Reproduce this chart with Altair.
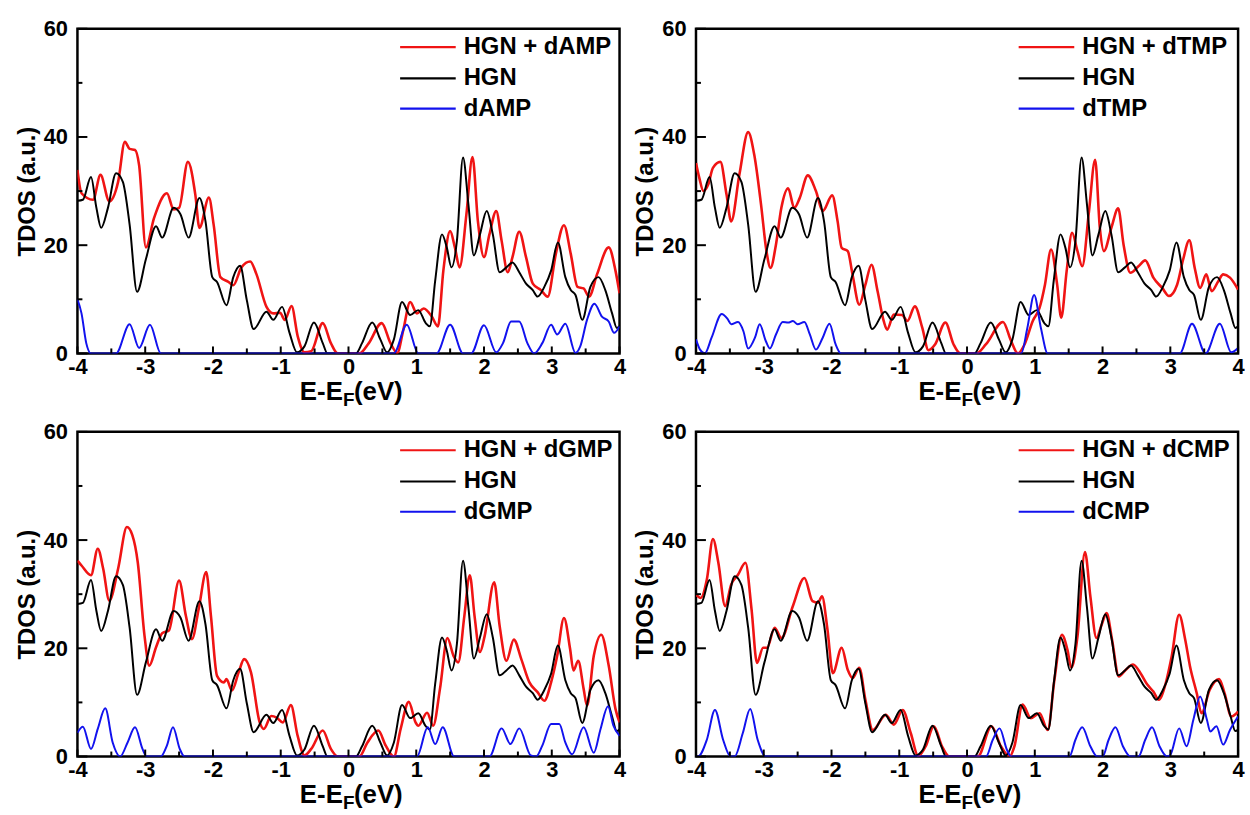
import altair as alt
import pandas as pd

# ---- TDOS curves (energy in eV, DOS in a.u.) ----
HGN = [(-4.00, 28.2), (-3.92, 28.4), (-3.80, 32.6), (-3.72, 26.9), (-3.65, 23.2), (-3.55, 26.9),
       (-3.43, 33.3), (-3.33, 31.7), (-3.23, 23.8), (-3.12, 11.4), (-2.99, 17.4), (-2.84, 23.5),
       (-2.75, 21.4), (-2.58, 26.9), (-2.48, 25.7), (-2.36, 21.4), (-2.20, 28.7), (-2.11, 24.4),
       (-2.01, 14.1), (-1.94, 13.2), (-1.80, 8.9), (-1.70, 14.1), (-1.60, 16.2), (-1.50, 9.8),
       (-1.40, 4.5), (-1.21, 7.7), (-1.11, 6.2), (-0.98, 8.6), (-0.87, 3.8), (-0.76, 0.2),
       (-0.65, 1.3), (-0.51, 5.7), (-0.38, 1.9), (-0.31, 0.0), (0.11, 0.0), (0.20, 1.9),
       (0.35, 5.7), (0.47, 2.6), (0.57, 0.2), (0.67, 2.6), (0.79, 9.5), (0.91, 7.1),
       (1.03, 8.0), (1.14, 5.6), (1.20, 5.0), (1.28, 13.5), (1.38, 22.0), (1.45, 19.6),
       (1.52, 15.9), (1.60, 20.8), (1.69, 36.2), (1.77, 27.5), (1.85, 18.1), (1.94, 22.0),
       (2.04, 26.3), (2.13, 22.0), (2.23, 15.0), (2.33, 15.9), (2.42, 16.8), (2.52, 15.0),
       (2.62, 12.9), (2.72, 11.7), (2.79, 10.5), (2.89, 12.3), (2.99, 15.3), (3.09, 20.5),
       (3.20, 14.1), (3.28, 11.7), (3.35, 10.8), (3.45, 6.2), (3.57, 12.3), (3.69, 14.1),
       (3.79, 11.7), (3.89, 7.4), (3.96, 4.7), (4.00, 5.0)]

HGN_DAMP = [(-4.00, 33.9), (-3.94, 29.6), (-3.77, 28.4), (-3.66, 33.0), (-3.53, 28.1), (-3.40, 31.7),
            (-3.30, 39.1), (-3.23, 37.8), (-3.15, 37.6), (-3.09, 34.8), (-2.99, 19.6), (-2.87, 25.0),
            (-2.68, 29.6), (-2.58, 26.6), (-2.50, 26.9), (-2.37, 35.4), (-2.26, 29.3), (-2.20, 23.2),
            (-2.06, 28.8), (-1.99, 23.8), (-1.89, 14.1), (-1.77, 13.2), (-1.70, 12.6), (-1.58, 15.9),
            (-1.45, 17.0), (-1.36, 14.7), (-1.21, 8.6), (-1.11, 7.4), (-1.01, 7.5), (-0.94, 6.2),
            (-0.84, 8.75), (-0.75, 3.2), (-0.65, 0.2), (-0.55, 0.4), (-0.38, 5.6), (-0.26, 1.9),
            (-0.16, 0.0), (0.16, 0.0), (0.30, 1.9), (0.49, 5.6), (0.62, 1.9), (0.72, 0.1),
            (0.81, 4.4), (0.91, 9.5), (1.01, 7.4), (1.11, 8.3), (1.23, 6.8), (1.32, 5.0),
            (1.40, 15.3), (1.50, 22.6), (1.57, 19.6), (1.64, 15.9), (1.74, 25.7), (1.83, 36.3),
            (1.91, 24.4), (2.00, 17.8), (2.08, 22.0), (2.18, 26.3), (2.26, 20.8), (2.35, 15.0),
            (2.42, 17.8), (2.52, 22.5), (2.62, 17.8), (2.72, 12.9), (2.84, 11.7), (2.94, 10.5),
            (3.06, 18.4), (3.18, 23.7), (3.28, 18.4), (3.38, 12.3), (3.47, 12.0), (3.55, 10.5),
            (3.67, 14.7), (3.84, 19.6), (3.94, 15.3), (4.00, 11.1)]

DAMP = [(-4.00, 10.0), (-3.94, 7.4), (-3.87, 1.9), (-3.80, 0.0), (-3.43, 0.0), (-3.23, 5.4),
        (-3.09, 1.0), (-2.93, 5.3), (-2.77, 0.0), (0.67, 0.0), (0.86, 5.3), (1.03, 0.0),
        (1.30, 0.0), (1.50, 5.3), (1.69, 0.0), (1.81, 0.0), (2.00, 5.2), (2.18, 0.2),
        (2.28, 1.9), (2.40, 5.9), (2.52, 5.9), (2.64, 1.9), (2.74, 0.0), (2.86, 1.9),
        (2.99, 5.3), (3.08, 3.5), (3.20, 5.5), (3.35, 0.1), (3.42, 1.3), (3.52, 6.2),
        (3.63, 9.2), (3.74, 6.8), (3.84, 5.9), (3.92, 3.8), (4.00, 5.0)]

HGN_DTMP = [(-4.00, 35.2), (-3.95, 32.4), (-3.89, 30.0), (-3.82, 31.2), (-3.75, 34.3), (-3.64, 35.4),
            (-3.55, 29.4), (-3.48, 24.4), (-3.36, 33.0), (-3.23, 40.9), (-3.14, 36.7), (-3.04, 27.5),
            (-2.96, 18.9), (-2.90, 15.8), (-2.82, 20.1), (-2.74, 26.9), (-2.64, 30.5), (-2.55, 26.9),
            (-2.47, 28.7), (-2.35, 32.9), (-2.23, 30.0), (-2.13, 26.3), (-1.99, 29.2), (-1.91, 24.4),
            (-1.85, 19.5), (-1.76, 18.9), (-1.69, 14.6), (-1.59, 9.0), (-1.50, 12.7), (-1.41, 16.4),
            (-1.32, 11.5), (-1.23, 6.0), (-1.18, 4.4), (-1.08, 7.2), (-0.96, 7.1), (-0.88, 6.0),
            (-0.77, 8.7), (-0.66, 4.7), (-0.57, 0.6), (-0.47, 1.7), (-0.32, 5.7), (-0.20, 1.7),
            (-0.10, 0.0), (0.14, 0.0), (0.28, 1.7), (0.53, 5.8), (0.65, 2.3), (0.75, 0.0),
            (0.85, 1.7), (0.97, 6.0), (1.07, 8.4), (1.15, 12.7), (1.24, 19.2), (1.33, 12.7),
            (1.39, 6.6), (1.47, 15.2), (1.55, 22.3), (1.63, 18.9), (1.70, 16.1), (1.80, 26.3),
            (1.89, 35.8), (1.96, 23.2), (2.02, 18.9), (2.13, 23.2), (2.23, 26.8), (2.31, 20.1),
            (2.41, 14.9), (2.53, 16.1), (2.63, 17.2), (2.75, 14.0), (2.88, 12.1), (2.98, 10.6),
            (3.10, 12.7), (3.19, 17.4), (3.28, 20.9), (3.36, 15.8), (3.44, 12.1), (3.53, 14.6),
            (3.61, 11.5), (3.71, 13.4), (3.78, 14.6), (3.88, 14.0), (4.00, 11.8)]

DTMP = [(-4.00, 2.6), (-3.94, 0.7), (-3.87, 0.0), (-3.77, 2.9), (-3.62, 7.3), (-3.53, 6.3),
        (-3.48, 5.4), (-3.38, 5.8), (-3.30, 4.1), (-3.23, 0.9), (-3.13, 2.9), (-3.06, 5.4),
        (-2.97, 2.3), (-2.91, 0.9), (-2.82, 3.5), (-2.72, 5.8), (-2.64, 5.7), (-2.57, 6.0),
        (-2.50, 5.4), (-2.40, 5.8), (-2.32, 3.5), (-2.23, 0.7), (-2.13, 2.9), (-2.03, 5.5),
        (-1.94, 1.7), (-1.86, 0.0), (0.80, 0.0), (0.89, 4.7), (0.99, 10.8), (1.09, 4.7),
        (1.19, 0.0), (3.14, 0.0), (3.32, 5.5), (3.52, 0.0), (3.73, 5.5), (3.90, 0.2),
        (4.00, 1.0)]

HGN_DGMP = [(-4.00, 36.2), (-3.94, 35.3), (-3.80, 33.5), (-3.70, 38.4), (-3.62, 34.7), (-3.53, 28.8),
            (-3.40, 34.7), (-3.27, 42.4), (-3.19, 40.9), (-3.11, 35.9), (-3.01, 22.3), (-2.94, 16.8),
            (-2.84, 20.2), (-2.75, 22.8), (-2.65, 23.3), (-2.50, 32.5), (-2.40, 26.0), (-2.31, 21.7),
            (-2.21, 27.3), (-2.10, 34.1), (-2.03, 26.0), (-1.94, 14.9), (-1.84, 13.7), (-1.80, 14.3),
            (-1.72, 12.2), (-1.62, 15.6), (-1.54, 18.0), (-1.44, 15.6), (-1.31, 6.3), (-1.25, 5.1),
            (-1.14, 7.5), (-1.06, 7.2), (-0.97, 6.3), (-0.85, 9.5), (-0.75, 3.8), (-0.65, 0.2),
            (-0.55, 1.4), (-0.38, 4.8), (-0.26, 1.4), (-0.16, 0.0), (0.16, 0.0), (0.28, 2.6),
            (0.44, 4.8), (0.55, 2.0), (0.67, 0.0), (0.77, 5.1), (0.89, 10.1), (0.99, 6.3),
            (1.03, 5.7), (1.16, 8.1), (1.25, 5.7), (1.35, 12.5), (1.46, 21.9), (1.55, 18.6),
            (1.62, 17.4), (1.71, 26.0), (1.79, 33.5), (1.86, 26.0), (1.94, 19.3), (2.01, 22.3),
            (2.15, 32.2), (2.23, 24.2), (2.33, 17.7), (2.44, 21.6), (2.55, 18.0), (2.67, 13.7),
            (2.79, 11.9), (2.89, 10.3), (2.99, 13.7), (3.08, 18.6), (3.18, 25.6), (3.27, 19.9),
            (3.32, 15.9), (3.39, 17.7), (3.47, 12.5), (3.52, 9.4), (3.62, 18.6), (3.73, 22.5),
            (3.84, 16.8), (3.94, 8.8), (4.00, 6.3)]

DGMP = [(-4.00, 4.4), (-3.92, 5.5), (-3.80, 1.4), (-3.70, 5.1), (-3.59, 8.9), (-3.48, 2.6),
        (-3.37, 0.0), (-3.26, 2.6), (-3.15, 5.4), (-3.04, 1.4), (-2.98, 0.0), (-2.77, 0.0),
        (-2.68, 2.0), (-2.59, 5.4), (-2.49, 1.4), (-2.42, 0.0), (1.01, 0.0), (1.17, 5.4),
        (1.28, 2.3), (1.39, 5.4), (1.56, 0.0), (2.08, 0.0), (2.26, 5.2), (2.39, 2.3),
        (2.52, 5.2), (2.69, 0.2), (2.77, 0.0), (2.86, 2.0), (2.99, 6.0), (3.11, 6.0),
        (3.20, 2.6), (3.30, 0.4), (3.47, 5.4), (3.62, 0.7), (3.72, 5.1), (3.83, 9.3),
        (3.91, 5.7), (4.00, 3.8)]

HGN_DCMP = [(-4.00, 29.9), (-3.93, 29.3), (-3.84, 32.7), (-3.75, 40.2), (-3.67, 35.8), (-3.57, 27.8),
            (-3.48, 31.8), (-3.38, 33.6), (-3.27, 35.8), (-3.18, 27.2), (-3.10, 17.3), (-3.01, 20.1),
            (-2.95, 20.1), (-2.84, 23.8), (-2.74, 21.9), (-2.57, 27.8), (-2.40, 33.0), (-2.28, 28.7),
            (-2.20, 28.4), (-2.14, 29.6), (-2.06, 23.5), (-1.98, 15.4), (-1.85, 20.1), (-1.76, 16.0),
            (-1.69, 14.5), (-1.59, 16.4), (-1.50, 10.5), (-1.39, 4.9), (-1.20, 7.7), (-1.08, 5.9),
            (-0.95, 8.6), (-0.83, 4.3), (-0.72, 0.1), (-0.61, 1.9), (-0.49, 5.6), (-0.37, 1.9),
            (-0.26, 0.0), (0.16, 0.0), (0.36, 5.6), (0.50, 1.9), (0.63, 0.0), (0.70, 1.9),
            (0.82, 9.6), (0.94, 7.1), (1.07, 8.0), (1.19, 4.9), (1.29, 14.2), (1.40, 22.5),
            (1.48, 19.8), (1.54, 16.4), (1.63, 22.2), (1.74, 37.8), (1.82, 29.6), (1.91, 21.9),
            (1.98, 24.1), (2.06, 26.5), (2.14, 21.6), (2.24, 14.8), (2.34, 16.0), (2.45, 17.0),
            (2.56, 15.4), (2.66, 13.3), (2.75, 12.0), (2.83, 10.5), (2.92, 13.0), (3.02, 18.5),
            (3.13, 26.2), (3.22, 21.6), (3.29, 16.7), (3.39, 11.7), (3.46, 8.0), (3.58, 12.3),
            (3.72, 14.3), (3.80, 11.7), (3.90, 7.4), (4.00, 8.3)]

DCMP = [(-4.00, 0.0), (-3.97, 0.0), (-3.84, 3.1), (-3.72, 8.6), (-3.60, 3.1), (-3.49, 0.0),
        (-3.43, 0.0), (-3.31, 4.3), (-3.20, 8.8), (-3.09, 3.1), (-2.97, 0.0), (0.28, 0.0),
        (0.38, 3.1), (0.48, 5.2), (0.59, 1.2), (0.65, 0.0), (1.51, 0.0), (1.60, 3.1),
        (1.70, 5.4), (1.82, 1.9), (1.92, 0.0), (2.00, 0.0), (2.09, 3.1), (2.19, 5.4),
        (2.30, 1.9), (2.41, 0.0), (2.53, 0.0), (2.63, 3.1), (2.73, 5.4), (2.84, 1.9),
        (2.95, 0.0), (3.00, 0.3), (3.13, 5.2), (3.24, 1.9), (3.34, 6.8), (3.44, 11.1),
        (3.54, 6.8), (3.59, 4.6), (3.68, 5.6), (3.78, 2.2), (3.88, 4.9), (4.00, 7.4)]

# ---- axes ----
X_LABELS = [-4, -3, -2, -1, 0, 1, 2, 3, 4]
X_MINOR = [-3.5, -2.5, -1.5, -0.5, 0.5, 1.5, 2.5, 3.5]
Y_LABELS = [0, 20, 40, 60]
Y_MINOR = [10, 30, 50]

RED, BLACK, BLUE = "#f01414", "#000000", "#1212ee"
FONT = "Liberation Sans"
W, H = 546, 327

XS = alt.Scale(domain=[-4, 4], nice=False, zero=False)
YS = alt.Scale(domain=[0, 60], nice=False)
X_AXIS = alt.Axis(values=X_LABELS, title=None, grid=False, domain=False, ticks=False,
                  tickSize=0, labelPadding=3, labelFlush=False, labelOverlap=False,
                  labelFont=FONT, labelFontSize=22, labelFontWeight="bold", labelColor="black",
                  labelExpr="datum.value < 0 ? '-' + abs(datum.value) : '' + datum.value")
Y_AXIS = alt.Axis(values=Y_LABELS, title="TDOS (a.u.)", grid=False, domain=False, ticks=False,
                  tickSize=0, labelPadding=10, labelFlush=False, labelOverlap=False,
                  labelFont=FONT, labelFontSize=22, labelFontWeight="bold", labelColor="black",
                  titleFont=FONT, titleFontSize=24, titleFontWeight="bold", titleColor="black",
                  titlePadding=4)


def curve(points):
    return pd.DataFrame(points, columns=["E", "D"])


def line(points, color, width):
    return alt.Chart(curve(points)).mark_line(
        color=color, strokeWidth=width, interpolate="monotone", clip=True
    ).encode(
        x=alt.X("E:Q", scale=XS, axis=X_AXIS),
        y=alt.Y("D:Q", scale=YS, axis=Y_AXIS),
    )


def x_ticks(values, length):
    return alt.Chart(pd.DataFrame({"E": values})).mark_rule(color="black", strokeWidth=2).encode(
        x=alt.X("E:Q", scale=XS, axis=X_AXIS), y=alt.value(H), y2=alt.value(H - length))


def y_ticks(values, length):
    return alt.Chart(pd.DataFrame({"D": values})).mark_rule(color="black", strokeWidth=2).encode(
        y=alt.Y("D:Q", scale=YS, axis=Y_AXIS), x=alt.value(0), x2=alt.value(length))


ONE = pd.DataFrame({"k": [0]})


def text_at(txt, px, py, size, align="left", baseline="middle"):
    return alt.Chart(ONE).mark_text(
        align=align, baseline=baseline, font=FONT, fontSize=size, fontWeight="bold", color="black"
    ).encode(x=alt.value(px), y=alt.value(py), text=alt.value(txt))


def legend_row(label, color, py):
    sample = alt.Chart(ONE).mark_rule(color=color, strokeWidth=2.2).encode(
        x=alt.value(325), x2=alt.value(381), y=alt.value(py))
    return [sample, text_at(label, 389, py, 24)]


def panel(mol, combo_pts, mol_pts):
    layers = [
        line(combo_pts, RED, 2.6),
        line(HGN, BLACK, 2.0),
        line(mol_pts, BLUE, 2.0),
        x_ticks(X_LABELS, 7), x_ticks(X_MINOR, 5),
        y_ticks(Y_LABELS, 10), y_ticks(Y_MINOR, 5),
    ]
    # legend in the upper right corner
    for label, color, py in [(f"HGN + {mol}", RED, 18.5), ("HGN", BLACK, 50.0), (mol, BLUE, 80.5)]:
        layers += legend_row(label, color, py)
    # x-axis title with a subscript F
    layers += [
        text_at("E-E", 224, 374, 26, baseline="alphabetic"),
        text_at("F", 267.5, 380, 19, baseline="alphabetic"),
        text_at("(eV)", 278.5, 374, 26, baseline="alphabetic"),
    ]
    return alt.layer(*layers).properties(width=W, height=H)


top = alt.hconcat(panel("dAMP", HGN_DAMP, DAMP), panel("dTMP", HGN_DTMP, DTMP), spacing=5)
bottom = alt.hconcat(panel("dGMP", HGN_DGMP, DGMP), panel("dCMP", HGN_DCMP, DCMP), spacing=5)

chart = alt.vconcat(top, bottom, spacing=7).properties(
    padding={"left": 14, "top": 13, "right": 4, "bottom": 4},
    background="white",
).configure_view(stroke="black", strokeWidth=2.5)

chart.save("out.html", embed_options={"renderer": "svg", "actions": False})
